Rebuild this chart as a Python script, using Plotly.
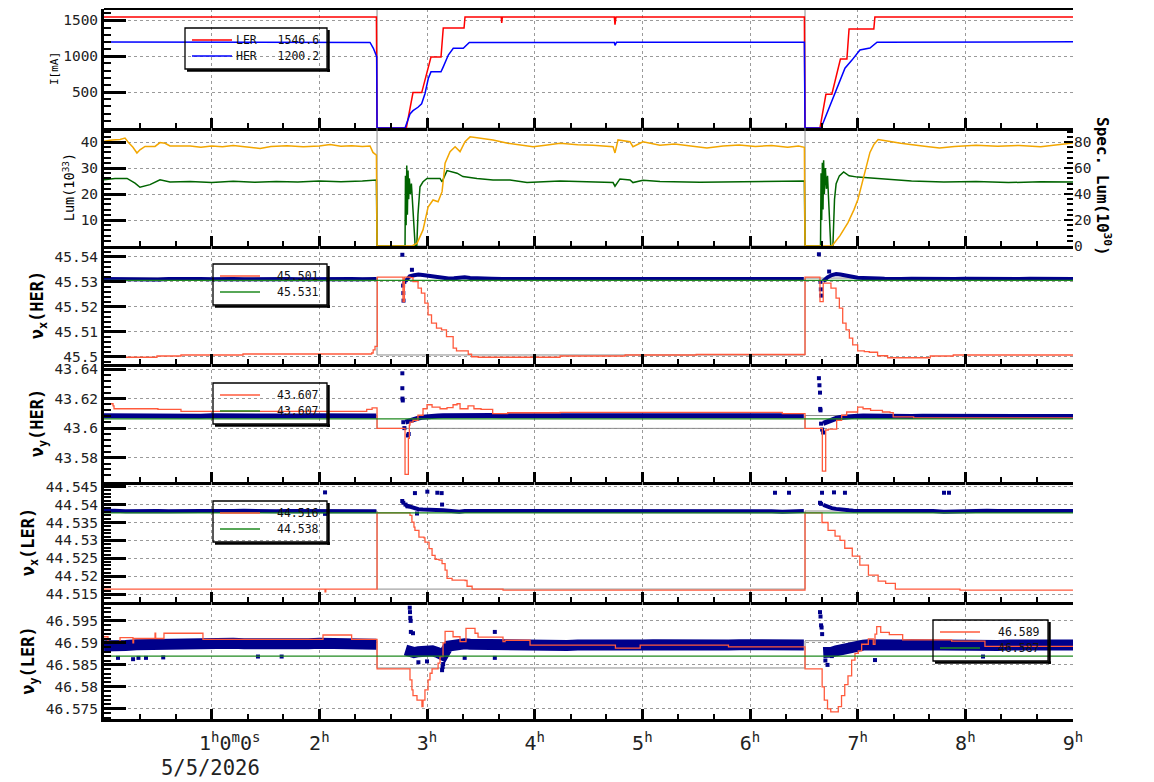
import plotly.graph_objects as go

# ---------------------------------------------------------------- data
# time in hours after 5/5/2026 00:00
# Panel 1 : beam currents [mA]
LER_T = [0.00, 0.40, 0.80, 1.20, 1.60, 2.00, 2.40, 2.530, 2.536, 2.808, 2.870, 2.951, 3.037, 3.130, 3.151,
         3.344, 3.353, 3.690, 3.694, 3.700, 4.740, 4.746, 4.755, 5.50, 6.20, 6.505, 6.511, 6.650, 6.705,
         6.760, 6.840, 6.900, 6.920, 7.150, 7.160, 8.00, 9.00]
LER_I = [1546, 1547, 1545, 1547, 1546, 1547, 1546, 1546, 0, 0, 493, 493, 990, 990, 1394,
         1394, 1546, 1546, 1465, 1546, 1546, 1440, 1546, 1547, 1546, 1546, 0, 0, 470,
         470, 960, 960, 1380, 1380, 1546, 1547, 1546.6]
HER_T = [0.00, 0.50, 1.00, 1.50, 2.00, 2.471, 2.502, 2.533, 2.536, 2.796, 2.842, 2.870, 2.916, 2.950, 2.981,
         3.012, 3.037, 3.130, 3.151, 3.198, 3.244, 3.337, 3.393, 4.740, 4.746, 4.760, 6.505, 6.511, 6.660,
         6.743, 6.817, 6.882, 6.947, 7.021, 7.114, 7.180, 9.00]
HER_I = [1197, 1198, 1197, 1198, 1197, 1192, 1111, 993, 0, 0, 196, 242, 289, 337, 477,
         689, 782, 782, 852, 1017, 1111, 1111, 1192, 1192, 1150, 1193, 1194, 0, 0,
         311, 593, 834, 946, 1087, 1115, 1195, 1200.2]
STATE_T = [0.0, 2.536, 6.511, 9.0]            # beam-state steps (grey reference line)
I_STATE = [3000, 0, 3000, 3000]

# Panel 2 : luminosity
SPEC_T = [0.000, 0.074, 0.149, 0.195, 0.223, 0.269, 0.306, 0.334, 0.381, 0.474, 0.520, 0.567, 0.613, 0.80,
          0.90, 1.00, 1.10, 1.20, 1.35, 1.45, 1.55, 1.70, 1.85, 2.00, 2.10, 2.20, 2.30, 2.40, 2.471, 2.498,
          2.530, 2.536, 2.861, 2.908, 2.963, 3.010, 3.056, 3.103, 3.140, 3.168, 3.214, 3.261, 3.307, 3.353,
          3.400, 3.492, 3.613, 3.75, 3.864, 3.985, 4.10, 4.236, 4.40, 4.542, 4.728, 4.746, 4.774, 4.886,
          4.913, 5.006, 5.164, 5.30, 5.45, 5.60, 5.75, 5.90, 6.05, 6.20, 6.35, 6.45, 6.505, 6.511, 6.761,
          6.836, 6.910, 6.966, 7.003, 7.040, 7.077, 7.114, 7.150, 7.190, 7.260, 7.400, 7.600, 7.760, 7.900,
          8.10, 8.30, 8.50, 8.70, 8.90, 9.00]
SPEC_L = [80.6, 81.6, 82.0, 83.0, 80.0, 76.0, 71.6, 74.0, 76.6, 76.6, 79.6, 79.0, 77.0, 77.0,
          76.0, 77.0, 76.4, 77.4, 76.0, 75.0, 76.6, 77.2, 76.4, 77.0, 78.0, 76.8, 77.2, 76.6, 77.0, 72.0,
          70.0, 0, 0, 2.2, 12.4, 30.0, 35.4, 34.0, 41.8, 63.8, 72.6, 76.4, 72.6, 80.2,
          84.0, 82.8, 81.6, 79.0, 77.6, 76.4, 77.6, 79.0, 78.0, 77.6, 76.4, 71.6, 81.6, 80.2,
          76.4, 80.2, 77.6, 78.4, 77.0, 75.4, 77.0, 77.8, 76.6, 77.4, 76.0, 77.0, 76.0, 0, 0,
          8, 18, 28, 36, 48, 62, 72, 78, 82, 81, 79, 77, 75.4, 76.6,
          77.6, 76.8, 77.4, 76.4, 78.0, 79.2]
LUM_T = [0.000, 0.102, 0.214, 0.288, 0.334, 0.427, 0.520, 0.613, 0.80, 1.00, 1.20, 1.40, 1.60, 1.80, 2.00,
         2.20, 2.40, 2.53, 2.536, 2.796, 2.800, 2.806, 2.812, 2.818, 2.824, 2.830, 2.836, 2.845, 2.855,
         2.865, 2.880, 2.890, 2.905, 2.916, 2.935, 2.963, 3.000, 3.121, 3.140, 3.186, 3.279, 3.334, 3.464,
         3.613, 3.771, 3.929, 4.236, 4.542, 4.728, 4.746, 4.792, 4.886, 4.913, 5.006, 5.164, 5.535, 6.000,
         6.464, 6.505, 6.511, 6.655, 6.660, 6.666, 6.672, 6.678, 6.684, 6.690, 6.700, 6.710, 6.720, 6.735,
         6.750, 6.770, 6.785, 6.800, 6.830, 6.870, 6.920, 7.000, 7.200, 7.500, 7.800, 8.100, 8.400, 8.700,
         9.000]
LUM_V = [25.5, 26.0, 26.0, 24.2, 22.6, 23.6, 25.5, 24.6, 24.8, 24.4, 24.9, 24.5, 24.8, 24.6, 25.0,
         24.7, 25.0, 25.4, 0, 0, 27.0, 8.0, 31.0, 12.0, 29.0, 18.0, 26.0, 20.0, 24.0,
         17.0, 10.0, 0.0, 0.0, 12.0, 22.8, 24.7, 26.0, 26.0, 24.7, 29.0, 28.0, 26.7, 26.0,
         25.4, 25.4, 24.4, 25.0, 24.5, 24.4, 23.0, 25.8, 25.4, 24.4, 25.3, 24.8, 24.5, 24.8,
         25.0, 25.0, 0, 0, 28, 10, 32, 14, 33, 20, 30, 22, 27, 12,
         0, 0, 18, 24, 27, 28.5, 27, 26.5, 26, 25, 24.6, 24.8, 24.4, 24.7,
         24.6]

# Panels 3-6 : tunes, common sampling of the tune monitors (None = no beam)
TUNE_T = [0.0, 0.1, 0.2, 0.3, 0.4, 0.5, 0.6, 0.7, 0.8, 0.9, 1.0, 1.1, 1.2, 1.3, 1.4, 1.5, 1.6, 1.7, 1.8,
          1.9, 2.0, 2.1, 2.2, 2.3, 2.4, 2.5, 2.53, 2.60,
          2.80, 2.84, 2.88, 2.92, 2.96,
          3.00, 3.05, 3.10, 3.15, 3.20, 3.25, 3.30, 3.35, 3.40,
          3.5, 3.6, 3.7, 3.8, 3.9, 4.0, 4.1, 4.2, 4.3, 4.4, 4.5, 4.6, 4.7, 4.8, 4.9, 5.0, 5.1, 5.2, 5.3,
          5.4, 5.5, 5.6, 5.7, 5.8, 5.9, 6.0, 6.1, 6.2, 6.3, 6.4, 6.5, 6.58,
          6.68, 6.72, 6.76, 6.80, 6.84, 6.88, 6.92, 6.96,
          7.00, 7.05, 7.10, 7.15, 7.20, 7.25, 7.30,
          7.4, 7.5, 7.6, 7.7, 7.8, 7.9, 8.0, 8.1, 8.2, 8.3, 8.4, 8.5, 8.6, 8.7, 8.8, 8.9, 9.0]
HX_MEAS = [45.5311, 45.5310, 45.5312, 45.5310, 45.5311, 45.5309, 45.5311, 45.5312, 45.5310, 45.5311,
           45.5310, 45.5312, 45.5311, 45.5310, 45.5311, 45.5312, 45.5310, 45.5311, 45.5310, 45.5311,
           45.5312, 45.5310, 45.5311, 45.5311, 45.5310, 45.5311, 45.5311, None,
           45.5302, 45.5322, 45.5326, 45.5329, 45.5327,
           45.5325, 45.5320, 45.5317, 45.5314, 45.5313, 45.5314, 45.5317, 45.5318, 45.5315,
           45.5312, 45.5312, 45.5311, 45.5311, 45.5312, 45.5311, 45.5311, 45.5312, 45.5311, 45.5311,
           45.5310, 45.5311, 45.5311, 45.5312, 45.5311, 45.5310, 45.5311, 45.5311, 45.5312, 45.5311,
           45.5311, 45.5310, 45.5311, 45.5311, 45.5312, 45.5311, 45.5311, 45.5310, 45.5311, 45.5311,
           45.5311, None,
           45.5302, 45.5318, 45.5327, 45.5331, 45.5329, 45.5325, 45.5321, 45.5318,
           45.5316, 45.5315, 45.5313, 45.5312, 45.5313, 45.5312, 45.5311,
           45.5311, 45.5312, 45.5311, 45.5311, 45.5310, 45.5311, 45.5312, 45.5311, 45.5311, 45.5310,
           45.5311, 45.5311, 45.5312, 45.5311, 45.5311, 45.5311, 45.5311]
HY_MEAS = [43.6083, 43.6082, 43.6084, 43.6081, 43.6083, 43.6082, 43.6084, 43.6082, 43.6083, 43.6081,
           43.6083, 43.6082, 43.6084, 43.6083, 43.6082, 43.6083, 43.6081, 43.6083, 43.6082, 43.6083,
           43.6084, 43.6082, 43.6083, 43.6082, 43.6083, 43.6082, 43.6082, None,
           43.6040, 43.6052, 43.6060, 43.6068, 43.6074,
           43.6078, 43.6080, 43.6082, 43.6083, 43.6084, 43.6083, 43.6084, 43.6083, 43.6082,
           43.6084, 43.6085, 43.6084, 43.6085, 43.6084, 43.6083, 43.6085, 43.6084, 43.6085, 43.6084,
           43.6083, 43.6084, 43.6085, 43.6084, 43.6083, 43.6084, 43.6085, 43.6084, 43.6084, 43.6083,
           43.6084, 43.6085, 43.6084, 43.6083, 43.6084, 43.6085, 43.6084, 43.6084, 43.6083, 43.6084,
           43.6084, None,
           43.6032, 43.6046, 43.6058, 43.6066, 43.6072, 43.6076, 43.6078, 43.6080,
           43.6081, 43.6082, 43.6081, 43.6082, 43.6081, 43.6080, 43.6081,
           43.6080, 43.6079, 43.6080, 43.6079, 43.6078, 43.6079, 43.6080, 43.6079, 43.6078, 43.6079,
           43.6078, 43.6079, 43.6078, 43.6079, 43.6078, 43.6078, 43.6079]
LX_MEAS = [44.5382, 44.5383, 44.5381, 44.5382, 44.5383, 44.5382, 44.5381, 44.5382, 44.5383, 44.5382,
           44.5382, 44.5381, 44.5382, 44.5383, 44.5382, 44.5382, 44.5381, 44.5382, 44.5382, 44.5383,
           44.5382, 44.5381, 44.5382, 44.5382, 44.5382, 44.5381, 44.5381, None,
           44.5398, 44.5394, 44.5390, 44.5387, 44.5386,
           44.5385, 44.5386, 44.5384, 44.5384, 44.5383, 44.5382, 44.5380, 44.5382, 44.5382,
           44.5382, 44.5383, 44.5382, 44.5382, 44.5381, 44.5382, 44.5382, 44.5383, 44.5382, 44.5382,
           44.5382, 44.5381, 44.5382, 44.5382, 44.5383, 44.5382, 44.5382, 44.5381, 44.5382, 44.5382,
           44.5382, 44.5383, 44.5382, 44.5381, 44.5382, 44.5382, 44.5382, 44.5381, 44.5380, 44.5382,
           44.5382, None,
           44.5399, 44.5394, 44.5390, 44.5388, 44.5386, 44.5385, 44.5384, 44.5383,
           44.5383, 44.5382, 44.5382, 44.5383, 44.5382, 44.5382, 44.5381,
           44.5382, 44.5382, 44.5383, 44.5382, 44.5380, 44.5381, 44.5382, 44.5382, 44.5383, 44.5382,
           44.5382, 44.5381, 44.5382, 44.5382, 44.5382, 44.5382, 44.5382]
LY_MEAS = [46.5893, 46.5891, 46.5894, 46.5896, 46.5897, 46.5898, 46.5897, 46.5898, 46.5899, 46.5898,
           46.5897, 46.5898, 46.5899, 46.5898, 46.5897, 46.5898, 46.5898, 46.5897, 46.5899, 46.5898,
           46.5899, 46.5898, 46.5897, 46.5898, 46.5898, 46.5897, 46.5897, None,
           46.5884, 46.5880, 46.5878, 46.5880, 46.5882,
           46.5884, 46.5882, 46.5878, 46.5872, 46.5893, 46.5896, 46.5897, 46.5898, 46.5897,
           46.5896, 46.5895, 46.5894, 46.5895, 46.5894, 46.5895, 46.5896, 46.5895, 46.5894, 46.5895,
           46.5894, 46.5893, 46.5894, 46.5895, 46.5894, 46.5895, 46.5896, 46.5895, 46.5894, 46.5895,
           46.5896, 46.5895, 46.5894, 46.5895, 46.5896, 46.5895, 46.5894, 46.5895, 46.5894, 46.5895,
           46.5895, None,
           46.5878, 46.5876, 46.5879, 46.5882, 46.5885, 46.5888, 46.5890, 46.5892,
           46.5894, 46.5895, 46.5896, 46.5895, 46.5896, 46.5895, 46.5896,
           46.5895, 46.5896, 46.5895, 46.5894, 46.5895, 46.5896, 46.5895, 46.5894, 46.5895, 46.5894,
           46.5895, 46.5896, 46.5895, 46.5894, 46.5895, 46.5896, 46.5895]

# isolated tune-monitor readings (spikes during injection etc.)
HX_OUT_T = [2.771, 2.778, 2.780, 2.782, 2.790, 2.860, 6.640, 6.655, 6.658, 6.662, 6.735]
HX_OUT_V = [45.5408, 45.5285, 45.5255, 45.5225, 45.5300, 45.5348, 45.5410, 45.5300, 45.5270, 45.5245, 45.5341]
HY_OUT_T = [2.771, 2.771, 2.772, 2.775, 2.780, 2.790, 2.823, 2.830, 6.640, 6.645, 6.650, 6.652, 6.655,
            6.660, 6.670, 6.680]
HY_OUT_V = [43.6371, 43.6270, 43.6200, 43.6187, 43.6040, 43.6000, 43.5950, 43.5960, 43.6338, 43.6290,
            43.6240, 43.6130, 43.6120, 43.6030, 43.5990, 43.5970]
LX_OUT_T = [2.053, 2.053, 2.770, 2.780, 2.800, 2.820, 2.888, 2.907, 3.003, 3.096, 3.136, 3.140,
            6.232, 6.362, 6.650, 6.660, 6.669, 6.780, 6.882, 7.802, 7.848]
LX_OUT_V = [44.5434, 44.5374, 44.5410, 44.5405, 44.5400, 44.5395, 44.5432, 44.5375, 44.5436, 44.5433,
            44.5432, 44.5400, 44.5433, 44.5433, 44.5405, 44.5402, 44.5433, 44.5434, 44.5433, 44.5433,
            44.5433]
LY_OUT_T = [0.13, 0.27, 0.32, 0.39, 0.55, 1.43, 1.65, 2.840, 2.842, 2.845, 2.848, 2.850, 2.870, 2.920,
            3.000, 3.140, 3.145, 3.150, 3.350, 3.630, 3.630, 6.650, 6.655, 6.660, 6.665, 6.670, 6.700,
            6.720, 6.760, 7.161, 8.164]
LY_OUT_V = [46.5866, 46.5863, 46.5866, 46.5866, 46.5867, 46.5869, 46.5869, 46.5980, 46.5970, 46.5957,
            46.5950, 46.5925, 46.5922, 46.5856, 46.5858, 46.5838, 46.5845, 46.5852, 46.5866, 46.5925,
            46.5866, 46.5970, 46.5960, 46.5940, 46.5935, 46.5920, 46.5860, 46.5850, 46.5870, 46.5861,
            46.5869]

# tune set values (step lines)
HX_SET_T = [0.000, 0.492, 0.715, 1.291, 2.486, 2.500, 2.517, 2.538, 2.777, 2.780, 2.790, 2.842, 2.870,
            2.917, 2.948, 2.980, 3.010, 3.042, 3.088, 3.135, 3.181, 3.243, 3.274, 3.352, 3.383, 3.414,
            3.476, 4.236, 4.840, 5.500, 6.511, 6.650, 6.660, 6.680, 6.706, 6.752, 6.799, 6.830, 6.861,
            6.892, 6.923, 6.954, 7.000, 7.062, 7.108, 7.185, 7.278, 7.674, 7.888, 9.000]
HX_SET_V = [45.4999, 45.5004, 45.5008, 45.5012, 45.5016, 45.5028, 45.5042, 45.5319, 45.5221, 45.5221,
            45.5319, 45.5317, 45.5301, 45.5275, 45.5255, 45.5215, 45.5168, 45.5135, 45.5115, 45.5108,
            45.5081, 45.5035, 45.5024, 45.5024, 45.5011, 45.5001, 45.4999, 45.5004, 45.5008, 45.5010,
            45.5319, 45.5221, 45.5221, 45.5295, 45.5295, 45.5275, 45.5235, 45.5195, 45.5135, 45.5108,
            45.5075, 45.5048, 45.5024, 45.5021, 45.5019, 45.5005, 45.4997, 45.5004, 45.5008, 45.5008]
HY_SET_T = [0.000, 0.084, 0.093, 0.501, 0.715, 2.440, 2.490, 2.536, 2.796, 2.827, 2.836, 2.842, 2.870,
            2.916, 2.963, 3.000, 3.047, 3.121, 3.186, 3.242, 3.279, 3.307, 3.372, 3.381, 3.427, 3.436,
            3.502, 3.610, 3.749, 4.236, 6.300, 6.511, 6.672, 6.703, 6.727, 6.758, 6.805, 6.851, 6.898,
            7.000, 7.050, 7.120, 7.230, 7.300, 7.330, 7.520, 9.000]
HY_SET_V = [43.6165, 43.6150, 43.6131, 43.6127, 43.6113, 43.6127, 43.6137, 43.5998, 43.5687, 43.5930,
            43.6020, 43.6040, 43.6053, 43.6087, 43.6131, 43.6158, 43.6142, 43.6131, 43.6138, 43.6158,
            43.6165, 43.6131, 43.6131, 43.6150, 43.6150, 43.6131, 43.6127, 43.6098, 43.6104, 43.6107,
            43.6098, 43.5998, 43.5709, 43.5987, 43.5993, 43.5993, 43.6053, 43.6087, 43.6109, 43.6142,
            43.6131, 43.6120, 43.6109, 43.6105, 43.6076, 43.6069, 43.6069]
LX_SET_T = [0.000, 2.053, 2.060, 2.536, 2.842, 2.860, 2.879, 2.888, 2.925, 2.972, 2.981, 3.019, 3.047,
            3.075, 3.112, 3.140, 3.168, 3.186, 3.233, 3.354, 3.372, 3.419, 3.697, 3.706, 6.511, 6.669,
            6.725, 6.790, 6.836, 6.880, 6.950, 7.020, 7.100, 7.190, 7.260, 7.350, 7.950, 9.000]
LX_SET_V = [44.5164, 44.5156, 44.5164, 44.5377, 44.5370, 44.5351, 44.5337, 44.5328, 44.5309, 44.5307,
            44.5295, 44.5277, 44.5258, 44.5247, 44.5245, 44.5235, 44.5217, 44.5194, 44.5189, 44.5188,
            44.5172, 44.5164, 44.5164, 44.5161, 44.5377, 44.5350, 44.5328, 44.5312, 44.5300, 44.5278,
            44.5256, 44.5231, 44.5203, 44.5186, 44.5180, 44.5164, 44.5161, 44.5162]
LY_SET_T = [0.000, 0.037, 0.149, 0.269, 0.275, 0.474, 0.480, 0.557, 0.919, 2.034, 2.300, 2.536, 2.842,
            2.860, 2.870, 2.907, 2.953, 2.963, 2.981, 3.010, 3.028, 3.047, 3.103, 3.121, 3.149, 3.168,
            3.242, 3.307, 3.362, 3.446, 3.474, 3.706, 3.725, 3.957, 4.750, 4.980, 5.800, 6.511, 6.670,
            6.690, 6.720, 6.750, 6.780, 6.820, 6.850, 6.880, 6.910, 6.944, 6.975, 7.006, 7.037, 7.099,
            7.145, 7.161, 7.177, 7.214, 7.294, 7.418, 7.873, 8.182, 9.000]
LY_SET_V = [46.5914, 46.5902, 46.5912, 46.5900, 46.5910, 46.5922, 46.5910, 46.5922, 46.5908, 46.5918,
            46.5908, 46.5841, 46.5816, 46.5793, 46.5780, 46.5770, 46.5755, 46.5770, 46.5793, 46.5816,
            46.5831, 46.5841, 46.5854, 46.5869, 46.5900, 46.5926, 46.5914, 46.5903, 46.5933, 46.5922,
            46.5913, 46.5903, 46.5906, 46.5895, 46.5888, 46.5895, 46.5891, 46.5841, 46.5800, 46.5770,
            46.5750, 46.5743, 46.5743, 46.5755, 46.5780, 46.5805, 46.5825, 46.5861, 46.5876, 46.5882,
            46.5897, 46.5909, 46.5897, 46.5920, 46.5937, 46.5924, 46.5919, 46.5907, 46.5904, 46.5892,
            46.5892]
# design / reference tunes (constant) and beam-state reference levels
HX_REF, HY_REF, LX_REF, LY_REF = 45.5306, 43.6062, 44.5377, 46.5870
HX_STATE = [45.5315, 45.5008, 45.5315, 45.5315]
HY_STATE = [43.6085, 43.5998, 43.6085, 43.6085]
LX_STATE = [44.5382, 44.5164, 44.5382, 44.5382]
LY_STATE = [46.5905, 46.5843, 46.5905, 46.5905]

# legend texts (latest values)
NB = "\u00a0"
LEG_I = ["LER" + NB * 3 + "1546.6", "HER" + NB * 3 + "1200.2"]
LEG_HX = ["45.501", "45.531"]
LEG_HY = ["43.607", "43.607"]
LEG_LX = ["44.516", "44.538"]
LEG_LY = ["46.589", "46.587"]

X_TICKVALS = [0, 1, 2, 3, 4, 5, 6, 7, 8, 9]
X_TICKTEXT = ["", NB * 3 + "1<sup>h</sup>0<sup>m</sup>0<sup>s</sup>", "2<sup>h</sup>",
              "3<sup>h</sup>", "4<sup>h</sup>", "5<sup>h</sup>", "6<sup>h</sup>", "7<sup>h</sup>",
              "8<sup>h</sup>", "9<sup>h</sup>"]
DATE_TEXT = "5/5/2026"

# ---------------------------------------------------------------- style
MONO = "DejaVu Sans Mono"
W, H = 1154, 782
LEFT, PW = 104, 969
BOUNDS = [9, 128, 246, 364, 482, 602, 719]       # pixel rows of the panel borders
PH = BOUNDS[-1] - BOUNDS[0]


def frac(py):
    return (BOUNDS[-1] - py) / PH


def fx(px):
    return (px - LEFT) / PW


DOM = [[frac(BOUNDS[i + 1]), frac(BOUNDS[i])] for i in range(6)]
XN = ["x", "x2", "x3", "x4", "x5", "x6"]
YN = ["y", "y2", "y4", "y5", "y6", "y7"]

RED, BLUE = "#ff0000", "#0000ff"
ORANGE, DGREEN = "#f2a600", "#006400"
TRED, TGREEN, NAVY, GREY = "#ff5a3c", "#1f8a1f", "#00008b", "#8c8c8c"

fig = go.Figure()


def line(x, y, panel, color, width=1.3, name="", shape="linear", yaxis=None):
    fig.add_trace(go.Scatter(
        x=x, y=y, xaxis=XN[panel], yaxis=yaxis or YN[panel], mode="lines",
        line=dict(color=color, width=width, shape=shape), name=name,
        showlegend=False, hoverinfo="skip"))


# panel 1
line(STATE_T, I_STATE, 0, GREY, 1, shape="hv")
line(LER_T, LER_I, 0, RED, 1.5, "LER")
line(HER_T, HER_I, 0, BLUE, 1.5, "HER")
# panel 2
line(STATE_T, I_STATE, 1, GREY, 1, shape="hv")
line(SPEC_T, SPEC_L, 1, ORANGE, 1.5, "Spec. Lum", yaxis="y3")
line(LUM_T, LUM_V, 1, DGREEN, 1.5, "Lum")

tune_sets = [
    (2, HX_STATE, HX_MEAS, 4, HX_OUT_T, HX_OUT_V, HX_SET_T, HX_SET_V, HX_REF),
    (3, HY_STATE, HY_MEAS, 5, HY_OUT_T, HY_OUT_V, HY_SET_T, HY_SET_V, HY_REF),
    (4, LX_STATE, LX_MEAS, 4, LX_OUT_T, LX_OUT_V, LX_SET_T, LX_SET_V, LX_REF),
    (5, LY_STATE, LY_MEAS, 11, LY_OUT_T, LY_OUT_V, LY_SET_T, LY_SET_V, LY_REF),
]
for p, st, meas, bw, ot, ov, sx, sv, ref in tune_sets:
    line(STATE_T, st, p, GREY, 1, shape="hv")
    fig.add_trace(go.Scatter(x=TUNE_T, y=meas, xaxis=XN[p], yaxis=YN[p], mode="lines",
                             line=dict(color=NAVY, width=bw), showlegend=False, hoverinfo="skip"))
    fig.add_trace(go.Scatter(x=ot, y=ov, xaxis=XN[p], yaxis=YN[p], mode="markers",
                             marker=dict(color=NAVY, size=4, symbol="square"),
                             showlegend=False, hoverinfo="skip"))
    line(sx, sv, p, TRED, 1.3, shape="hv")
    line([0, 9], [ref, ref], p, TGREEN, 1.3)

# ---------------------------------------------------------------- axes
GRID = dict(showgrid=True, gridcolor="#9a9a9a", griddash="3px,3px", gridwidth=1)
lay = {}
for i in range(6):
    xa = dict(domain=[0, 1], anchor=YN[i], range=[0, 9], tickmode="array", tickvals=X_TICKVALS,
              ticktext=X_TICKTEXT, ticks="inside", ticklen=10, tickwidth=3, tickcolor="black",
              showline=True, linewidth=3, linecolor="black", zeroline=False,
              showticklabels=(i == 5), tickfont=dict(family=MONO, size=20, color="#222"),
              ticklabelstandoff=4,
              minor=dict(ticks="inside", ticklen=5, tickwidth=2, tickcolor="black",
                         tickmode="linear", tick0=0, dtick=1 / 3, showgrid=False),
              automargin=False, fixedrange=True, **GRID)
    if i:
        xa["matches"] = "x"
    lay["xaxis" if i == 0 else "xaxis%d" % (i + 1)] = xa

Y_SPECS = [
    dict(range=[0, 1658], tickvals=[500, 1000, 1500], ticktext=["500", "1000", "1500"], minor=100,
         title="I[mA]", tsize=11, bold=False, standoff=3),
    dict(range=[0, 45.4], tickvals=[10, 20, 30, 40], ticktext=["10", "20", "30", "40"], minor=2,
         title="Lum(10<sup>33</sup>)", tsize=13.5, bold=False, standoff=3),
    dict(range=[45.4972, 45.5443], tickvals=[45.5, 45.51, 45.52, 45.53, 45.54],
         ticktext=["45.5", "45.51", "45.52", "45.53", "45.54"], minor=0.002,
         title="ν<sub>x</sub>(HER)", tsize=17, bold=True, standoff=7),
    dict(range=[43.5635, 43.6434], tickvals=[43.58, 43.6, 43.62, 43.64],
         ticktext=["43.58", "43.6", "43.62", "43.64"], minor=0.004,
         title="ν<sub>y</sub>(HER)", tsize=17, bold=True, standoff=7),
    dict(range=[44.5128, 44.5463], tickvals=[44.515, 44.52, 44.525, 44.53, 44.535, 44.54, 44.545],
         ticktext=["44.515", "44.52", "44.525", "44.53", "44.535", "44.54", "44.545"], minor=0.001,
         title="ν<sub>x</sub>(LER)", tsize=17, bold=True, standoff=7),
    dict(range=[46.5727, 46.5993], tickvals=[46.575, 46.58, 46.585, 46.59, 46.595],
         ticktext=["46.575", "46.58", "46.585", "46.59", "46.595"], minor=0.001,
         title="ν<sub>y</sub>(LER)", tsize=17, bold=True, standoff=7),
]
for i, s in enumerate(Y_SPECS):
    txt = "<b>%s</b>" % s["title"] if s["bold"] else s["title"]
    ya = dict(domain=DOM[i], anchor=XN[i], range=s["range"], tickmode="array", tickvals=s["tickvals"],
              ticktext=s["ticktext"], ticks="inside", ticklen=22, tickwidth=3, tickcolor="black",
              showline=True, linewidth=3, linecolor="black", zeroline=False,
              tickfont=dict(family=MONO, size=14.5, color="#222"),
              minor=dict(ticks="inside", ticklen=7, tickwidth=2, tickcolor="black", tickmode="linear",
                         tick0=s["tickvals"][0], dtick=s["minor"], showgrid=False),
              title=dict(text=txt, font=dict(family=MONO, size=s["tsize"], color="black"),
                         standoff=s["standoff"]),
              automargin=False, fixedrange=True, **GRID)
    lay["yaxis" if YN[i] == "y" else "yaxis" + YN[i][1:]] = ya

lay["yaxis3"] = dict(domain=DOM[1], anchor="x2", overlaying="y2", side="right", range=[0, 90.8],
                     tickmode="array", tickvals=[0, 20, 40, 60, 80], ticktext=["0", "20", "40", "60", "80"],
                     ticks="inside", ticklen=9, tickwidth=2, tickcolor="black", showline=False,
                     showgrid=False, zeroline=False, tickfont=dict(family=MONO, size=14.5, color="#222"),
                     minor=dict(ticks="inside", ticklen=6, tickwidth=2, tickcolor="black",
                                tickmode="linear", tick0=0, dtick=4, showgrid=False),
                     automargin=False, fixedrange=True)

# ---------------------------------------------------------------- legend boxes (drawn)
LEGENDS = [  # (left px, top px, width px, [(colour, text), ...])
    (185, 28, 142, [(RED, LEG_I[0]), (BLUE, LEG_I[1])]),
    (213, 264, 114, [(TRED, LEG_HX[0]), (TGREEN, LEG_HX[1])]),
    (213, 383, 114, [(TRED, LEG_HY[0]), (TGREEN, LEG_HY[1])]),
    (213, 501, 114, [(TRED, LEG_LX[0]), (TGREEN, LEG_LX[1])]),
    (933, 620, 115, [(TRED, LEG_LY[0]), (TGREEN, LEG_LY[1])]),
]
shapes = [dict(type="line", xref="paper", yref="paper", x0=0, x1=1, y0=1, y1=1,
               line=dict(color="black", width=2))]
annotations = [dict(text="<b>Spec. Lum(10<sup>30</sup>)</b>", xref="paper", yref="paper",
                    x=fx(1104), y=frac(186), textangle=90, showarrow=False,
                    xanchor="center", yanchor="middle",
                    font=dict(family=MONO, size=16, color="black")),
               dict(text=DATE_TEXT, xref="paper", yref="paper", x=fx(210), y=frac(768),
                    xanchor="center", yanchor="middle", showarrow=False,
                    font=dict(family=MONO, size=20.5, color="#222"))]
for L, T, Wd, entries in LEGENDS:
    Hh = 41
    shapes.append(dict(type="rect", xref="paper", yref="paper", x0=fx(L), x1=fx(L + Wd),
                       y0=frac(T + Hh), y1=frac(T), line=dict(color="black", width=1.3)))
    shapes.append(dict(type="line", xref="paper", yref="paper", x0=fx(L + Wd + 1.5), x1=fx(L + Wd + 1.5),
                       y0=frac(T + 2), y1=frac(T + Hh + 3), line=dict(color="black", width=2.5)))
    shapes.append(dict(type="line", xref="paper", yref="paper", x0=fx(L + 2), x1=fx(L + Wd + 3),
                       y0=frac(T + Hh + 1.5), y1=frac(T + Hh + 1.5), line=dict(color="black", width=2.5)))
    for k, (col, txt) in enumerate(entries):
        yy = T + 12 + 16 * k
        shapes.append(dict(type="line", xref="paper", yref="paper", x0=fx(L + 7), x1=fx(L + 47),
                           y0=frac(yy), y1=frac(yy), line=dict(color=col, width=1.3)))
        annotations.append(dict(text=txt, xref="paper", yref="paper", x=fx(L + Wd - 6), y=frac(yy),
                                xanchor="right", yanchor="middle", showarrow=False,
                                font=dict(family=MONO, size=11.5, color="#111")))

fig.update_layout(
    width=W, height=H, margin=dict(l=104, r=81, t=9, b=63, autoexpand=False),
    paper_bgcolor="white", plot_bgcolor="white", showlegend=False,
    font=dict(family=MONO, color="black"),
    annotations=annotations, shapes=shapes, **lay)

fig.write_html("out.html")
